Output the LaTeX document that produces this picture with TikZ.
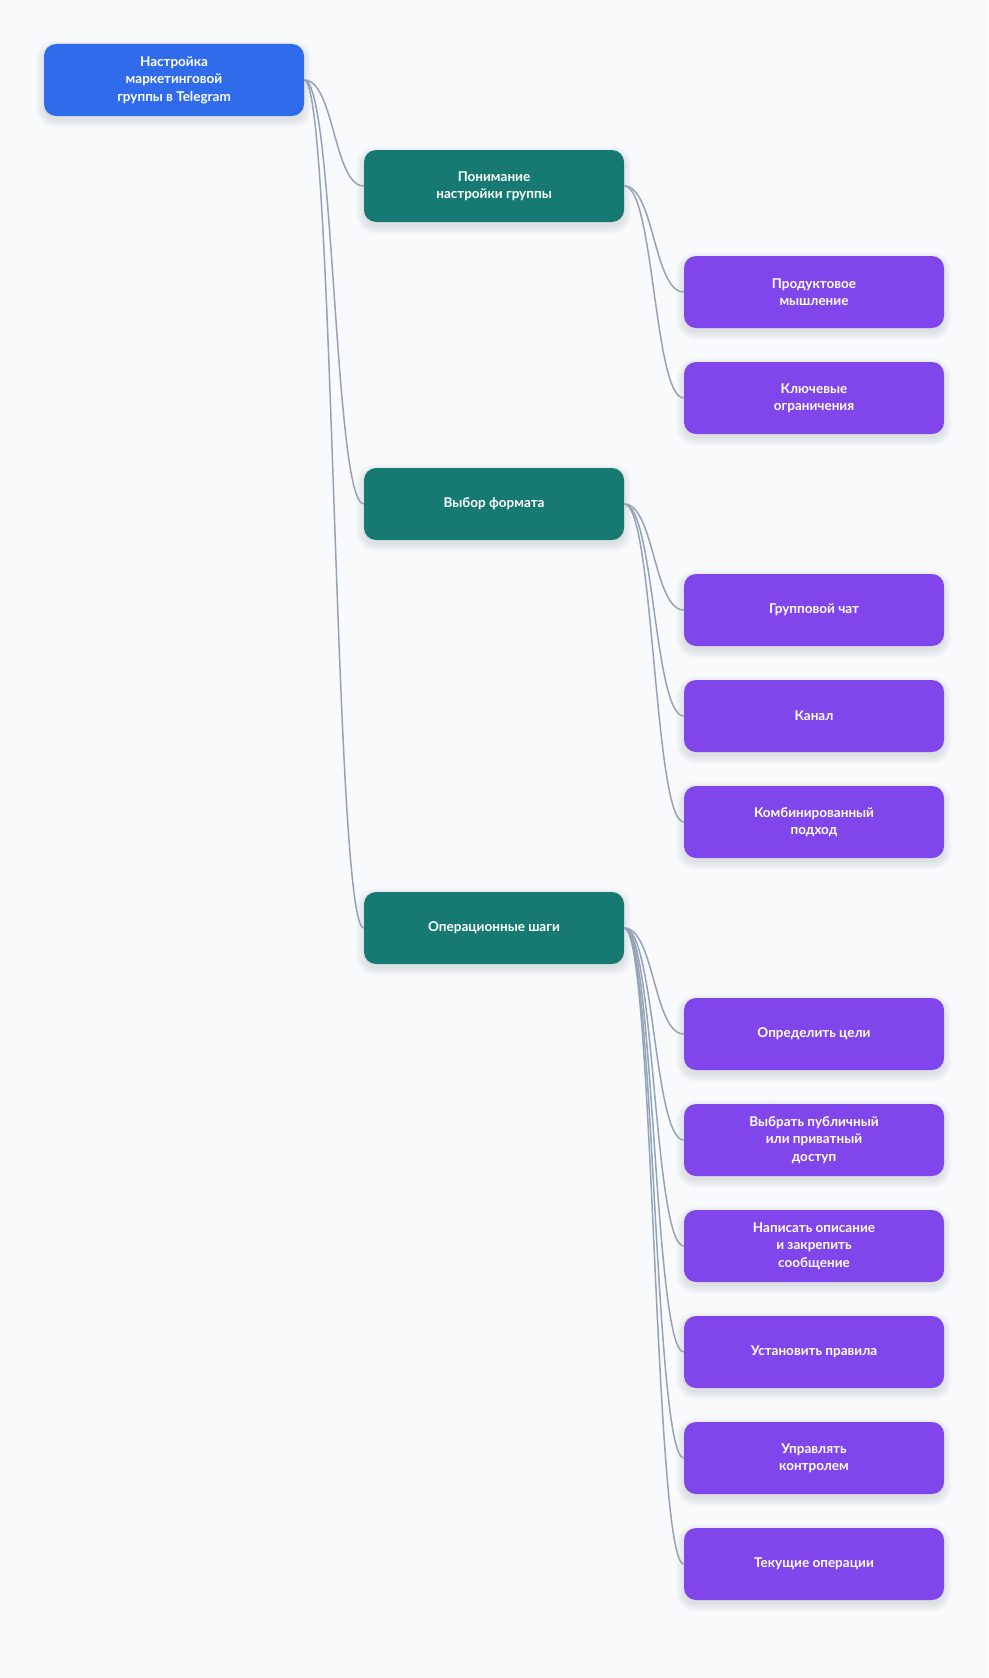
\documentclass[tikz,border=0pt]{standalone}
\usepackage{fontspec}
\setmainfont{Lato}
\definecolor{bgc}{HTML}{F8FAFC}
\definecolor{rootc}{HTML}{2F6BEB}
\definecolor{tealc}{HTML}{177A72}
\definecolor{violc}{HTML}{8145EC}
\definecolor{edgec}{HTML}{94A3B8}
\definecolor{shadc}{HTML}{1E293B}
\pgfdeclarelayer{bglayer}
\pgfdeclarelayer{shadowlayer}
\pgfsetlayers{bglayer,shadowlayer,main}
\begin{document}
\begin{tikzpicture}[x=1pt,y=-1pt,
  box/.style={rounded corners=12pt, minimum width=260pt, minimum height=72pt,
    align=center, text=white, inner sep=4pt,
    font=\fontsize{13.5}{17.5}\selectfont\bfseries},
  rootbox/.style={box, fill=rootc},
  midbox/.style={box, fill=tealc},
  leafbox/.style={box, fill=violc},
  edge/.style={draw=edgec, line width=1.5pt},
  shadowpiece/.style={fill=shadc, fill opacity=0.02}]
\begin{pgfonlayer}{bglayer}
\fill[bgc] (0,0) rectangle (988,1678);
\end{pgfonlayer}
\useasboundingbox (0,0) rectangle (988,1678);

\node[rootbox] (root) at (174,80) {Настройка\\маркетинговой\\группы в Telegram};

\node[midbox] (m1) at (494,186) {Понимание\\настройки группы};
\node[midbox] (m2) at (494,504) {Выбор формата};
\node[midbox] (m3) at (494,928) {Операционные шаги};

\node[leafbox] (a1) at (814,292) {Продуктовое\\мышление};
\node[leafbox] (a2) at (814,398) {Ключевые\\ограничения};

\node[leafbox] (b1) at (814,610) {Групповой чат};
\node[leafbox] (b2) at (814,716) {Канал};
\node[leafbox] (b3) at (814,822) {Комбинированный\\подход};

\node[leafbox] (c1) at (814,1034) {Определить цели};
\node[leafbox] (c2) at (814,1140) {Выбрать публичный\\или приватный\\доступ};
\node[leafbox] (c3) at (814,1246) {Написать описание\\и закрепить\\сообщение};
\node[leafbox] (c4) at (814,1352) {Установить правила};
\node[leafbox] (c5) at (814,1458) {Управлять\\контролем};
\node[leafbox] (c6) at (814,1564) {Текущие операции};

\begin{pgfonlayer}{shadowlayer}
\foreach \n in {root,m1,m2,m3,a1,a2,b1,b2,b3,c1,c2,c3,c4,c5,c6}
  \foreach \e in {0,1.5,3,4.5,6,7.5}
    \fill[shadowpiece, rounded corners=12pt+\e pt]
      ([xshift=-\e pt, yshift=-4pt+\e pt]\n.north west) rectangle ([xshift=\e pt, yshift=-4pt-\e pt]\n.south east);
\end{pgfonlayer}

\foreach \c in {m1,m2,m3}
  \draw[edge] (root.east) .. controls +(30pt,0pt) and +(-30pt,0pt) .. (\c.west);
\foreach \c in {a1,a2}
  \draw[edge] (m1.east) .. controls +(30pt,0pt) and +(-30pt,0pt) .. (\c.west);
\foreach \c in {b1,b2,b3}
  \draw[edge] (m2.east) .. controls +(30pt,0pt) and +(-30pt,0pt) .. (\c.west);
\foreach \c in {c1,c2,c3,c4,c5,c6}
  \draw[edge] (m3.east) .. controls +(30pt,0pt) and +(-30pt,0pt) .. (\c.west);
\end{tikzpicture}
\end{document}
